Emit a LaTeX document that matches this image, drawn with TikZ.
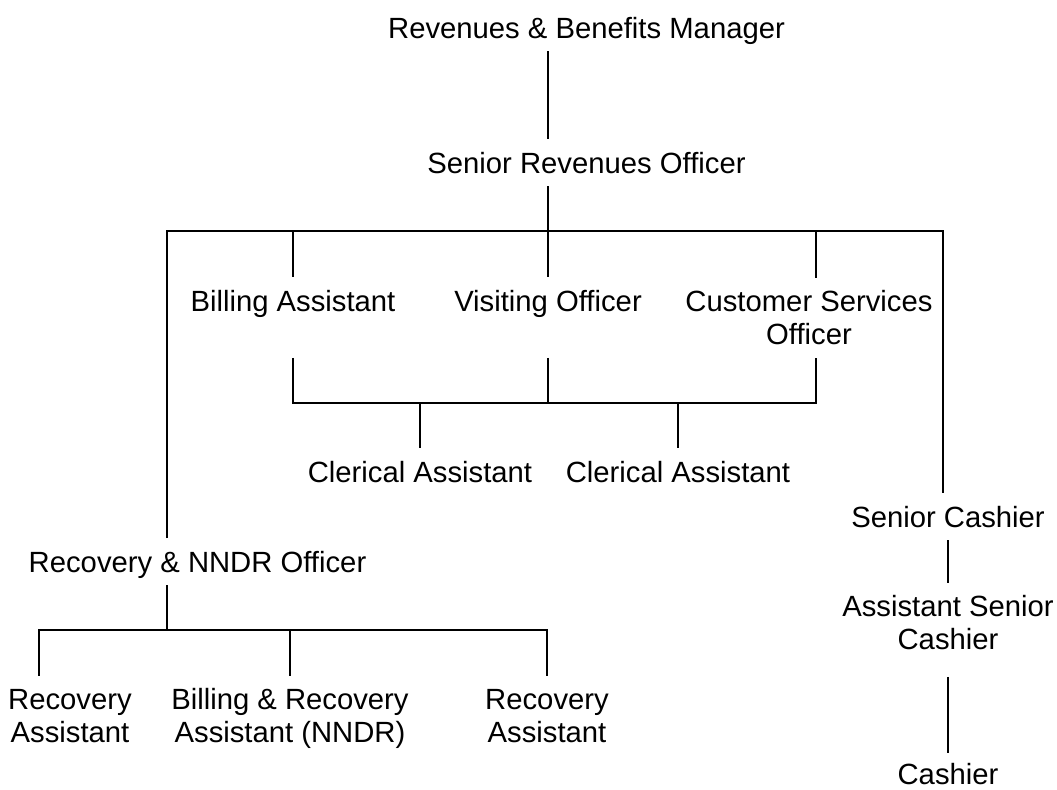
\documentclass[tikz,border=0pt]{standalone}
\usepackage{fontspec}
\setmainfont{Liberation Sans}
\begin{document}
\begin{tikzpicture}[x=0.025cm, y=-0.025cm, line width=1.7pt,
    post/.style={anchor=north, align=center, inner sep=0pt, outer xsep=0pt, outer ysep=0.325cm,
        font=\fontsize{20.8pt}{23.8pt}\selectfont, text height=0.525cm, text depth=0pt},
    post2/.style={post, text height=1.3615cm}]
        \useasboundingbox (0,0) rectangle (1057,789);

        % Top of the tree
        \node[post] (mgr) at (586.5,4) {Revenues \& Benefits Manager};
        \node[post] (sro) at (586.5,139) {Senior Revenues Officer};

        % Officers under the senior officer
        \node[post] (bill) at (293,277) {Billing Assistant};
        \node[post] (visit) at (548,277) {Visiting Officer};
        \node[post2] (cso) at (809,277.5) {Customer Services\\Officer};
        \node[post] (cler1) at (420,448) {Clerical Assistant};
        \node[post] (cler2) at (678,448) {Clerical Assistant};

        % Cashiers on the right
        \node[post] (scash) at (948,493) {Senior Cashier};
        \node[post2] (ascash) at (948,582.5) {Assistant Senior\\Cashier};
        \node[post] (cash) at (948,750) {Cashier};

        % Recovery on the left
        \node[post] (rnndr) at (197.5,538) {Recovery \& NNDR Officer};
        \node[post2] (recl) at (70,675.5) {Recovery\\Assistant};
        \node[post2] (brec) at (290,675.5) {Billing \& Recovery\\Assistant (NNDR)};
        \node[post2] (recr) at (547,675.5) {Recovery\\Assistant};

        % Branch points
        \coordinate (hub) at (548,231);
        \coordinate (lhub) at (167,231);
        \coordinate (rhub) at (943,231);
        \coordinate (cso-x) at (816,231);
        \coordinate (cbar) at (548,403);
        \coordinate (rbar) at (167,630);
        \coordinate (rbar-l) at (39,630);

        % Connectors
        \draw (mgr.south -| hub) -- (sro.north -| hub);
        \draw (sro.south -| hub) -- (hub);
        \draw (lhub |- rnndr.north) -- (lhub) -- (rhub) -- (rhub |- scash.north);
        \draw (bill |- hub) -- (bill.north);
        \draw (hub) -- (visit.north);
        \draw (cso-x) -- (cso-x |- cso.north);
        \draw (bill |- cso.south) -- (bill |- cbar) -- (cso-x |- cbar) -- (cso-x |- cso.south);
        \draw (visit |- cso.south) -- (cbar);
        \draw (cler1 |- cbar) -- (cler1.north);
        \draw (cler2 |- cbar) -- (cler2.north);
        \draw (scash.south) -- (ascash.north);
        \draw[shorten <=0.35cm, shorten >=-0.075cm] (ascash.south) -- (cash.north);
        \draw (rnndr.south -| rbar) -- (rbar);
        \draw (rbar-l |- recl.north) -- (rbar-l) -- (recr |- rbar-l) -- (recr.north);
        \draw (brec |- rbar-l) -- (brec.north);

    \end{tikzpicture}
\end{document}
